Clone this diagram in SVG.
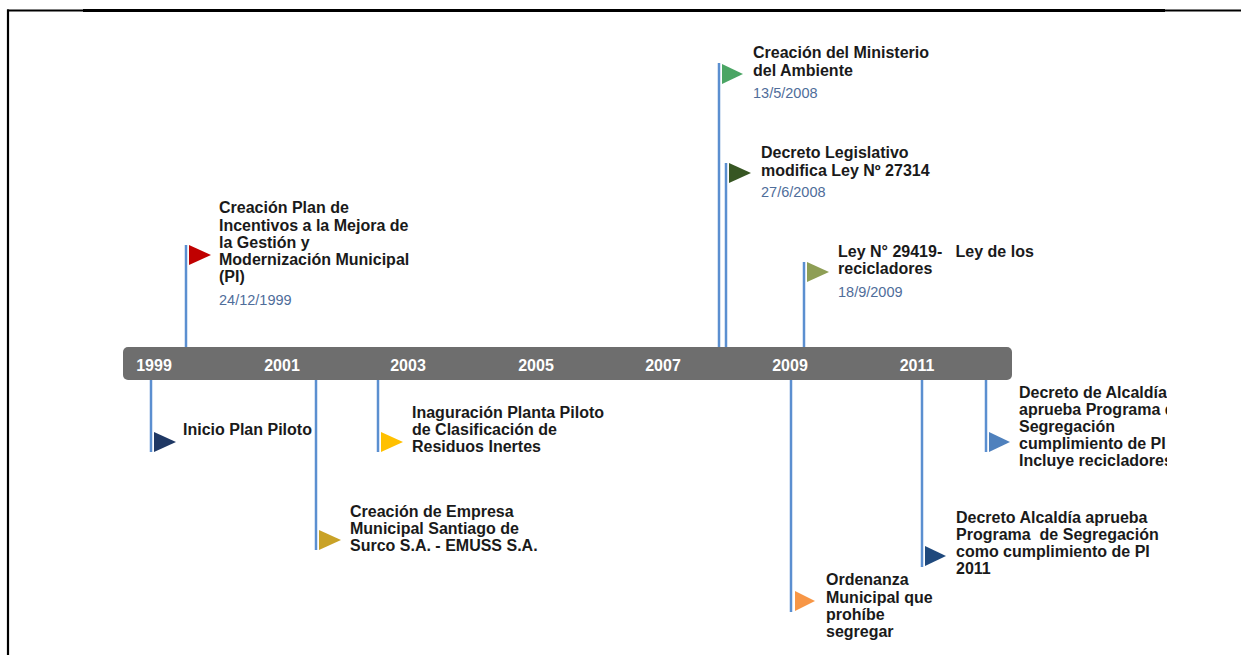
<svg xmlns="http://www.w3.org/2000/svg" width="1241" height="655" viewBox="0 0 1241 655">
<style>
.t{font-family:"Liberation Sans",Arial,sans-serif;font-weight:bold;font-size:16px;fill:#1a1a1a;white-space:pre}
.d{font-family:"Liberation Sans",Arial,sans-serif;font-size:14.5px;fill:#4f6d9a}
.y{font-family:"Liberation Sans",Arial,sans-serif;font-weight:bold;font-size:16px;fill:#ffffff;text-anchor:middle}
.s{stroke:#5b8fd0;stroke-width:2.5;fill:none}
</style>
<defs>
<clipPath id="cr"><rect x="0" y="0" width="1167" height="655"/></clipPath>
</defs>
<g id="frame">
<line x1="7" y1="10.5" x2="1241" y2="10.5" stroke="#000" stroke-width="2"/>
<line x1="83" y1="10.5" x2="1165" y2="10.5" stroke="#000" stroke-width="3"/>
<line x1="8" y1="9.5" x2="8" y2="655" stroke="#000" stroke-width="2.2"/>
</g>
<g id="connectors">
<line class="s" x1="186" y1="245" x2="186" y2="348"/>
<line class="s" x1="719" y1="63" x2="719" y2="348"/>
<line class="s" x1="726" y1="163" x2="726" y2="348"/>
<line class="s" x1="804" y1="262" x2="804" y2="348"/>
<line class="s" x1="151" y1="380" x2="151" y2="452"/>
<line class="s" x1="316" y1="380" x2="316" y2="550"/>
<line class="s" x1="378" y1="380" x2="378" y2="452"/>
<line class="s" x1="791" y1="380" x2="791" y2="612"/>
<line class="s" x1="922" y1="380" x2="922" y2="567"/>
<line class="s" x1="986" y1="380" x2="986" y2="452"/>
</g>
<g id="timeline">
<rect x="123" y="347" width="889" height="33" rx="5" fill="#6e6e6e"/>
<text class="y" x="154" y="371">1999</text>
<text class="y" x="282" y="371">2001</text>
<text class="y" x="408" y="371">2003</text>
<text class="y" x="536" y="371">2005</text>
<text class="y" x="663" y="371">2007</text>
<text class="y" x="790" y="371">2009</text>
<text class="y" x="917" y="371">2011</text>
</g>
<g id="ev-plan-incentivos">
<polygon points="189,245 211,255 189,265" fill="#c00000"/>
<text class="t" x="219" y="213">Creación Plan de</text>
<text class="t" x="219" y="231">Incentivos a la Mejora de</text>
<text class="t" x="219" y="248">la Gestión y</text>
<text class="t" x="219" y="265">Modernización Municipal</text>
<text class="t" x="219" y="282">(PI)</text>
<text class="d" x="219" y="305">24/12/1999</text>
</g>
<g id="ev-ministerio">
<polygon points="722,64 743,74 722,84" fill="#4aa564"/>
<text class="t" x="753" y="58">Creación del Ministerio</text>
<text class="t" x="753" y="76">del Ambiente</text>
<text class="d" x="753" y="98">13/5/2008</text>
</g>
<g id="ev-decreto-legislativo">
<polygon points="729,163 751,173 729,183" fill="#375623"/>
<text class="t" x="761" y="158">Decreto Legislativo</text>
<text class="t" x="761" y="176">modifica Ley Nº 27314</text>
<text class="d" x="761" y="197">27/6/2008</text>
</g>
<g id="ev-ley-recicladores">
<polygon points="807,262 829,272 807,282" fill="#8e9e55"/>
<text class="t" x="838" y="257" xml:space="preserve">Ley N° 29419-   Ley de los</text>
<text class="t" x="838" y="274">recicladores</text>
<text class="d" x="838" y="297">18/9/2009</text>
</g>
<g id="ev-plan-piloto">
<polygon points="154,432 176,442 154,452" fill="#1f3864"/>
<text class="t" x="183" y="435">Inicio Plan Piloto</text>
</g>
<g id="ev-planta-piloto">
<polygon points="381,432 403,442 381,452" fill="#ffc000"/>
<text class="t" x="412" y="418">Inaguración Planta Piloto</text>
<text class="t" x="412" y="435">de Clasificación de</text>
<text class="t" x="412" y="452">Residuos Inertes</text>
</g>
<g id="ev-emuss">
<polygon points="319,530 341,540 319,550" fill="#c9a227"/>
<text class="t" x="350" y="517">Creación de Empresa</text>
<text class="t" x="350" y="534">Municipal Santiago de</text>
<text class="t" x="350" y="551">Surco S.A. - EMUSS S.A.</text>
</g>
<g id="ev-ordenanza">
<polygon points="795,591 815,601 795,611" fill="#f79646"/>
<text class="t" x="826" y="585">Ordenanza</text>
<text class="t" x="826" y="603">Municipal que</text>
<text class="t" x="826" y="620">prohíbe</text>
<text class="t" x="826" y="637">segregar</text>
</g>
<g id="ev-decreto-alcaldia-2011">
<polygon points="925,546 946,556 925,566" fill="#1f497d"/>
<text class="t" x="956" y="523">Decreto Alcaldía aprueba</text>
<text class="t" x="956" y="540" xml:space="preserve">Programa  de Segregación</text>
<text class="t" x="956" y="557">como cumplimiento de PI</text>
<text class="t" x="956" y="574">2011</text>
</g>
<g id="ev-decreto-alcaldia-recicladores" clip-path="url(#cr)">
<polygon points="989,432 1010,442 989,452" fill="#4f81bd"/>
<text class="t" x="1019" y="398">Decreto de Alcaldía</text>
<text class="t" x="1019" y="415">aprueba Programa de</text>
<text class="t" x="1019" y="432">Segregación</text>
<text class="t" x="1019" y="449">cumplimiento de PI</text>
<text class="t" x="1019" y="466">Incluye recicladores</text>
</g>
</svg>
